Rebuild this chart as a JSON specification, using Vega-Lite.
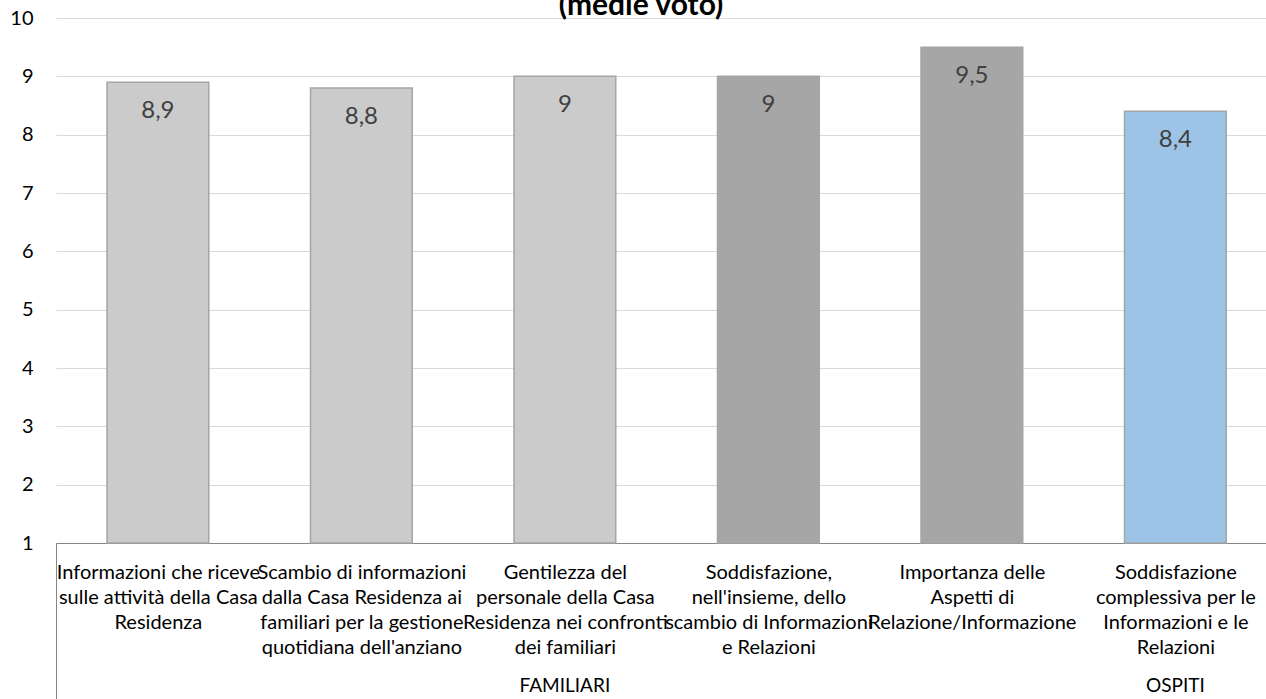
{
  "$schema": "https://vega.github.io/schema/vega-lite/v6.json",
  "autosize": {"type": "none"},
  "width": 1210,
  "height": 525,
  "padding": {"left": 56, "top": 18, "right": 0, "bottom": 156},
  "background": "white",
  "config": {
    "view": {"stroke": null},
    "font": "Lato",
    "locale": {"number": {"decimal": ",", "thousands": ".", "grouping": [3], "currency": ["€", ""]}}
  },
  "title": {
    "text": "(medie voto)",
    "font": "Lato",
    "fontSize": 30,
    "fontWeight": "bold",
    "color": "#000000",
    "anchor": "middle",
    "frame": "group",
    "dx": -20,
    "offset": -13
  },
  "data": {
    "values": [
      {"cat": "Informazioni che riceve|sulle attività della Casa|Residenza", "voto": 8.9, "tipo": "chiaro", "gruppo": ""},
      {"cat": "Scambio di informazioni|dalla Casa Residenza ai|familiari per la gestione|quotidiana dell'anziano", "voto": 8.8, "tipo": "chiaro", "gruppo": ""},
      {"cat": "Gentilezza del|personale della Casa|Residenza nei confronti|dei familiari", "voto": 9.0, "tipo": "chiaro", "gruppo": "FAMILIARI"},
      {"cat": "Soddisfazione,|nell'insieme, dello|scambio di Informazioni|e Relazioni", "voto": 9.0, "tipo": "scuro", "gruppo": ""},
      {"cat": "Importanza delle|Aspetti di|Relazione/Informazione", "voto": 9.5, "tipo": "scuro", "gruppo": ""},
      {"cat": "Soddisfazione|complessiva per le|Informazioni e le|Relazioni", "voto": 8.4, "tipo": "blu", "gruppo": "OSPITI"}
    ]
  },
  "encoding": {
    "x": {
      "field": "cat",
      "type": "nominal",
      "sort": null,
      "scale": {"paddingInner": 0.5, "paddingOuter": 0.223, "align": 0.562, "round": false}
    },
    "y": {
      "field": "voto",
      "type": "quantitative",
      "scale": {"domain": [1, 10], "nice": false, "zero": false}
    }
  },
  "layer": [
    {
      "mark": {"type": "bar", "stroke": "#a5a5a5", "strokeWidth": 1.5},
      "encoding": {
        "x": {
          "field": "cat",
          "type": "nominal",
          "sort": null,
          "axis": {
            "title": null,
            "orient": "bottom",
            "labelAngle": 0,
            "labelExpr": "split(datum.label, '|')",
            "labelFont": "Lato",
            "labelFontSize": 20,
            "labelColor": "#000000",
            "labelLineHeight": 25,
            "labelPadding": -137,
            "labelOffset": 102,
            "labelOverlap": false,
            "labelBound": false,
            "labelLimit": 0,
            "domainColor": "#868686",
            "domainWidth": 1,
            "tickOffset": -102,
            "tickSize": 156,
            "tickWidth": 1,
            "tickColor": {"condition": {"test": "datum.index === 0", "value": "#868686"}, "value": "transparent"}
          }
        },
        "y": {
          "field": "voto",
          "type": "quantitative",
          "axis": {
            "title": null,
            "values": [1, 2, 3, 4, 5, 6, 7, 8, 9, 10],
            "format": "d",
            "domain": false,
            "ticks": false,
            "grid": true,
            "gridColor": "#d9d9d9",
            "gridWidth": 1,
            "labelFont": "Lato",
            "labelFontSize": 20,
            "labelColor": "#000000",
            "labelPadding": 23
          }
        },
        "y2": {"datum": 1},
        "color": {
          "field": "tipo",
          "type": "nominal",
          "legend": null,
          "scale": {"domain": ["chiaro", "scuro", "blu"], "range": ["#cbcbcb", "#a6a6a6", "#9dc3e6"]}
        }
      }
    },
    {
      "mark": {"type": "text", "baseline": "top", "dy": 17, "fontSize": 24, "font": "Lato", "color": "#404040"},
      "encoding": {
        "x": {
          "field": "cat",
          "type": "nominal",
          "sort": null,
          "axis": {
            "title": null,
            "orient": "bottom",
            "labelExpr": "datum.value == 'Gentilezza del|personale della Casa|Residenza nei confronti|dei familiari' ? 'FAMILIARI' : (datum.value == 'Soddisfazione|complessiva per le|Informazioni e le|Relazioni' ? 'OSPITI' : '')",
            "labelAngle": 0,
            "labelFont": "Lato",
            "labelFontSize": 19,
            "labelColor": "#000000",
            "labelPadding": 133,
            "labelOverlap": false,
            "labelBound": false,
            "domain": false,
            "ticks": false,
            "grid": false
          }
        },
        "text": {"field": "voto", "type": "quantitative", "format": ".1~f"}
      }
    }
  ],
  "resolve": {"axis": {"x": "independent"}}
}
